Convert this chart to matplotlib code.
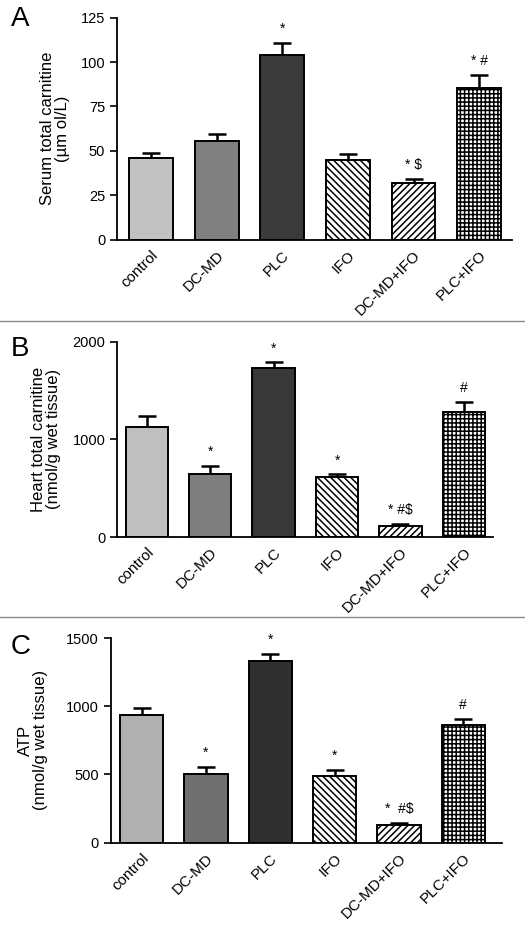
import matplotlib
matplotlib.use('Agg')
import matplotlib.pyplot as plt
from matplotlib.lines import Line2D

plt.rcParams['font.family'] = ['Liberation Sans', 'DejaVu Sans']
plt.rcParams['hatch.linewidth'] = 1.1

groups = ['control', 'DC-MD', 'PLC', 'IFO', 'DC-MD+IFO', 'PLC+IFO']

# panel A: serum total carnitine
serum_mean = [46.2, 55.6, 103.8, 44.7, 32.1, 85.6]
serum_err = [2.8, 3.7, 6.8, 3.6, 2.1, 7.0]
serum_marks = ['', '', '*', '', '* $', '* #']

# panel B: heart total carnitine
heart_mean = [1126, 648, 1728, 614, 116, 1280]
heart_err = [110, 82, 61, 28, 17, 102]
heart_marks = ['', '*', '*', '*', '* #$', '#']

# panel C: ATP
atp_mean = [938, 506, 1331, 487, 130, 862]
atp_err = [51, 47, 54, 44, 17, 44]
atp_marks = ['', '*', '*', '*', '*  #$', '#']

panels = [
    dict(letter='A', mean=serum_mean, err=serum_err, marks=serum_marks,
         ylabel='Serum total carnitine\n(µm ol/L)', ylim=125, ticks=[0, 25, 50, 75, 100, 125],
         rect=[0.223, 0.741, 0.752, 0.240], xlim=(-0.52, 5.5), lab_x=-0.12,
         colors=['#c2c2c2', '#808080', '#3a3a3a'], letter_y=0.993),
    dict(letter='B', mean=heart_mean, err=heart_err, marks=heart_marks,
         ylabel='Heart total carnitine\n(nmol/g wet tissue)', ylim=2000, ticks=[0, 1000, 2000],
         rect=[0.223, 0.420, 0.716, 0.211], xlim=(-0.47, 5.46), lab_x=-0.15,
         colors=['#bfbfbf', '#7e7e7e', '#383838'], letter_y=0.637),
    dict(letter='C', mean=atp_mean, err=atp_err, marks=atp_marks,
         ylabel='ATP\n(nmol/g wet tissue)', ylim=1500, ticks=[0, 500, 1000, 1500],
         rect=[0.211, 0.090, 0.745, 0.221], xlim=(-0.48, 5.6), lab_x=-0.16,
         colors=['#b0b0b0', '#707070', '#303030'], letter_y=0.315),
]

hatches = [None, None, None, '\\\\\\\\\\', '/////', '++++']

fig = plt.figure(figsize=(5.25, 9.26), dpi=100)

for p in panels:
    ax = fig.add_axes(p['rect'])
    x = list(range(len(groups)))
    fills = p['colors'] + ['white', 'white', 'white']
    bars = ax.bar(x, p['mean'], width=0.67, color=fills, edgecolor='black',
                  linewidth=1.4, zorder=2)
    for b, h in zip(bars, hatches):
        if h:
            b.set_hatch(h)
    ax.errorbar(x, p['mean'], yerr=[[0] * len(x), p['err']], fmt='none',
                ecolor='black', elinewidth=1.8, capsize=6.5, capthick=1.8, zorder=1)
    for xi, m, e, t in zip(x, p['mean'], p['err'], p['marks']):
        if t:
            ax.annotate(t, (xi, m + e), xytext=(0, 5), textcoords='offset points',
                        ha='center', va='bottom', fontsize=10)
    ax.set_xlim(*p['xlim'])
    ax.set_ylim(0, p['ylim'])
    ax.set_yticks(p['ticks'])
    ax.set_xticks(x)
    ax.set_xticklabels(groups, rotation=45, ha='right', rotation_mode='anchor', fontsize=11)
    ax.tick_params(axis='y', labelsize=10.5, length=5, width=1.2)
    ax.tick_params(axis='x', length=0, pad=6)
    for s in ['top', 'right']:
        ax.spines[s].set_visible(False)
    for s in ['left', 'bottom']:
        ax.spines[s].set_linewidth(1.3)
    ax.set_ylabel(p['ylabel'], fontsize=12, linespacing=1.0)
    ax.yaxis.set_label_coords(p['lab_x'], 0.5)
    fig.text(0.02, p['letter_y'], p['letter'], fontsize=20, va='top')

fig.add_artist(Line2D([0, 1], [0.653, 0.653], color='#8a8a8a', linewidth=1))
fig.add_artist(Line2D([0, 1], [0.334, 0.334], color='#8a8a8a', linewidth=1))

fig.savefig('out.png', dpi=100)
